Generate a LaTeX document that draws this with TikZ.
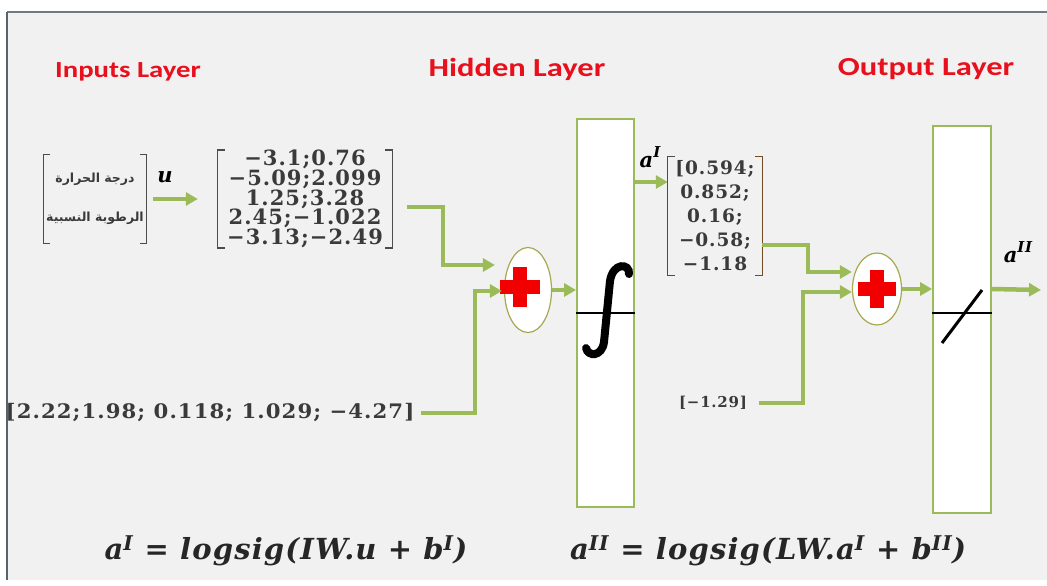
\documentclass[tikz,border=0pt]{standalone}
\usepackage{fontspec}
\setmainfont{Liberation Serif}
\newfontfamily\titlef{Carlito}
\newfontfamily\numf[LetterSpace=5]{DejaVu Serif}
\newfontfamily\frmf[LetterSpace=4]{DejaVu Serif}
\newfontfamily\arabicfont[Script=Arabic]{DejaVu Sans}
\TeXXeTstate=1
\usetikzlibrary{arrows.meta,shapes.geometric,calc}
\definecolor{bgc}{HTML}{F1F1F1}
\definecolor{gr}{HTML}{9BBB59}
\definecolor{frm}{HTML}{6F7A85}
\definecolor{ttl}{HTML}{E8101C}
\definecolor{txt}{HTML}{3A3A3A}
\newcommand{\wide}[1]{\scalebox{1.25}[1]{#1}}
\begin{document}
\begin{tikzpicture}[x=1pt,y=-1pt,
 title/.style={font=\titlef\bfseries\fontsize{26}{28}\selectfont, text=ttl},
 num/.style={font=\numf\bfseries\fontsize{20}{19.7}\selectfont, text=txt, align=center, inner sep=0},
 gline/.style={draw=gr, line width=4.5pt},
 garrow/.style={gline, -{Triangle[length=12pt,width=13pt]}},
 layerbox/.style={draw=gr, line width=1.8pt, fill=white, inner sep=0},
 sumnode/.style={ellipse, draw=gr!70!brown, line width=1.2pt, fill=white, inner sep=0},
 brk/.style={draw=black!70, line width=1.2pt},
 lab/.style={font=\numf\bfseries\itshape\fontsize{21}{24}\selectfont},
 formula/.style={font=\frmf\bfseries\itshape\fontsize{29}{32}\selectfont, text=black!85},
 cross/.style={fill=red!95!black}
]
\useasboundingbox (0,0) rectangle (1047,586);
% background frame
\fill[white] (0,0) rectangle (1047,586);
\fill[bgc] (7,12) rectangle (1047,580);
\draw[frm, line width=1.5pt] (1047,12) -- (7,12);
\draw[frm!80!black, line width=2.5pt] (7,12) -- (7,580);

% titles
\node[title, font=\titlef\bfseries\fontsize{23}{26}\selectfont] (tin) at (128,72) {\wide{Inputs Layer}};
\node[title] (thid) at (517,69) {\wide{Hidden Layer}};
\node[title] (tout) at (926,69) {\wide{Output Layer}};

% input vector
\node[font=\arabicfont\bfseries\fontsize{12.5}{39}\selectfont, text=txt, align=center, minimum width=103pt, minimum height=89pt, inner sep=0] (in) at (95,199)
 {\beginR درجة الحرارة\endR\\ \beginR الرطوبة النسبية\endR};
\draw[brk] ($(in.north west)+(7,0)$) -- (in.north west) -- (in.south west) -- ++(7,0);
\draw[brk] ($(in.north east)+(-7,0)$) -- (in.north east) -- (in.south east) -- ++(-7,0);
\node[lab] (u) at (165,177) {u};

% IW matrix
\node[num, font=\numf\bfseries\fontsize{21}{19.7}\selectfont, minimum width=174pt, minimum height=94pt] (IW) at (305,199)
 {−3.1;0.76\\−5.09;2.099\\1.25;3.28\\2.45;−1.022\\−3.13;−2.49};
\draw[brk] ($(IW.north west)+(7,0)$) -- (IW.north west) -- (IW.south west) -- ++(7,0);
\draw[brk] ($(IW.north east)+(-7,0)$) -- (IW.north east) -- (IW.south east) -- ++(-7,0);

% bias 1
\node[num] (b1) at (210,413) {\scalebox{1.06}[1]{[2.22;1.98; 0.118; 1.029; −4.27]}};

% sum 1
\node[sumnode, minimum width=47pt, minimum height=85pt] (s1) at (528,290) {};
\fill[cross] (513,267) rectangle (527,307);
\fill[cross] (500,280) rectangle (540,294);

% hidden layer box
\node[layerbox, minimum width=57pt, minimum height=388pt] (box1) at (605.5,313) {};
\draw[black, line width=2pt] (box1.west) -- (box1.east);
\draw[black, line width=8pt, line cap=round]
  (629,274) .. controls (630,263) and (613,262) .. (610,281)
  -- (604,342) .. controls (602,357) and (588,357) .. (586,348);

% a^I vector
\node[num, font=\numf\bfseries\fontsize{18.5}{24}\selectfont, minimum width=94pt, minimum height=118pt] (aI) at (715,216)
 {[0.594;\\0.852;\\0.16;\\−0.58;\\−1.18};
\draw[brk] ($(aI.north west)+(7,0)$) -- (aI.north west) -- (aI.south west) -- ++(7,0);
\draw[brk, draw=brown!60!black] ($(aI.north east)+(-7,0)$) -- (aI.north east) -- (aI.south east) -- ++(-7,0);
\node[lab] (laI) at (650,157) {a\raisebox{0.45em}{\fontsize{15}{15}\selectfont I}};

% bias 2
\node[num, font=\numf\bfseries\fontsize{15}{16}\selectfont] (b2) at (713,403) {[−1.29]};

% sum 2
\node[sumnode, minimum width=49pt, minimum height=72pt] (s2) at (877,289) {};
\fill[cross] (870,270) rectangle (884,308);
\fill[cross] (858,282) rectangle (896,296);

% output layer box
\node[layerbox, minimum width=58pt, minimum height=387pt] (box2) at (962,319.5) {};
\draw[black, line width=2pt] ($(box2.west)+(0,-6.5)$) -- ($(box2.east)+(0,-6.5)$);
\draw[black, line width=3pt] (942,343) -- (982,290);
\node[lab] (laII) at (1018,252) {a\raisebox{0.45em}{\fontsize{15}{15}\selectfont II}};
\coordinate (out) at (1041,290);

% connectors
\draw[garrow] ([xshift=6pt]in.east) -- ([xshift=-20pt]IW.west);
\draw[garrow] ([xshift=15pt,yshift=-8pt]IW.east) -| (443,265) -- ($(s1.west)+(-9,-25)$);
\draw[garrow] ([xshift=6pt]b1.east) -| (475,291) -- ($(s1.west)+(-2,1)$);
\draw[garrow] (s1.east) -- (box1.west |- s1.east);
\draw[garrow] (box1.east |- 0,182) -- (aI.west |- 0,182);
\draw[garrow] ([yshift=-29pt]aI.east) -| (808,272) -- ($(s2.west)+(0,-17)$);
\draw[garrow] ([xshift=12pt]b2.east) -| (803,292) -- ($(s2.west)+(0,3)$);
\draw[garrow] (s2.east) -- (box2.west |- s2.east);
\draw[garrow] (box2.east |- s2.east) -- (out);

% formulas
\node[formula] (f1) at (286,551) {a\textsuperscript{I} = logsig(IW.u + b\textsuperscript{I})};
\node[formula] (f2) at (768,551) {a\textsuperscript{II} = logsig(LW.a\textsuperscript{I} + b\textsuperscript{II})};
\end{tikzpicture}
\end{document}
